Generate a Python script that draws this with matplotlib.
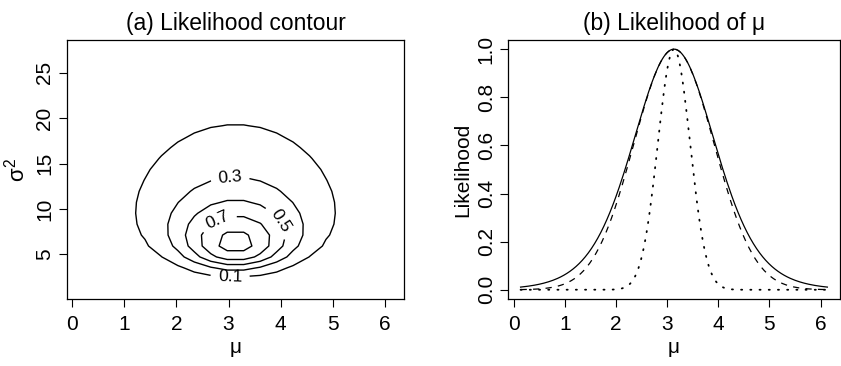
import numpy as np
import matplotlib.pyplot as plt

plt.rcParams['font.family'] = ['Liberation Sans', 'DejaVu Sans']
plt.rcParams['mathtext.fontset'] = 'custom'
plt.rcParams['mathtext.rm'] = 'Liberation Sans'
plt.rcParams['mathtext.it'] = 'Liberation Sans'

# sample (n = 10)
x = np.array([0.88, 1.07, 1.27, 1.54, 1.91, 2.27, 3.84, 4.50, 4.64, 9.41])
levels = [0.1, 0.3, 0.5, 0.7, 0.9]
sigma2_known = 1.0

# where each contour label sits (mu, sigma^2); 0.9 is left unlabelled
label_pos = {0.1: (3.03, 2.9), 0.3: (3.03, 13.2), 0.5: (3.98, 8.6), 0.7: (2.78, 9.0)}

n = len(x)
xbar = x.mean()
s2hat = np.mean((x - xbar) ** 2)


def loglik(mu, s2):
    return -n / 2 * np.log(s2) - (n * s2hat + n * (xbar - mu) ** 2) / (2 * s2)


lmax = loglik(xbar, s2hat)

# coarse grid for the contour
mu_g = np.linspace(xbar - 3, xbar + 3, 20)
s2_g = np.linspace(1.1, 27.6, 23)
M, S = np.meshgrid(mu_g, s2_g)
L = np.exp(loglik(M, S) - lmax)

fig = plt.figure(figsize=(8.41, 3.66), dpi=100)

ax1 = fig.add_axes([0.0793, 0.182, 0.4014, 0.710])
for lev in levels:
    cs = ax1.contour(M, S, L, levels=[lev], colors='black', linewidths=1.0)
    if lev in label_pos:
        ax1.clabel(cs, fontsize=12.5, fmt='%g', inline=True,
                   inline_spacing=9, manual=[label_pos[lev]])
ax1.set_xlim(xbar - 3 - 0.24, xbar + 3 + 0.24)
ax1.set_ylim(1.1 - 0.04 * 26.5, 27.6 + 0.04 * 26.5)
ax1.set_xticks(range(0, 7))
ax1.set_yticks([5, 10, 15, 20, 25])
ax1.set_xlabel('μ', fontsize=15, labelpad=3)
ax1.set_ylabel(r'$\sigma^2$', fontsize=16, labelpad=4)
ax1.set_title('(a) Likelihood contour', fontsize=16.5, pad=7)

# likelihood of mu
mu = np.linspace(xbar - 3, xbar + 3, 200)
prof = (1 + (mu - xbar) ** 2 / s2hat) ** (-n / 2)
est = np.exp(-n * (mu - xbar) ** 2 / (2 * s2hat))
known = np.exp(-n * (mu - xbar) ** 2 / (2 * sigma2_known))

ax2 = fig.add_axes([0.6044, 0.182, 0.3940, 0.710])
ax2.plot(mu, prof, color='black', lw=0.9)
ax2.plot(mu, est, color='black', lw=0.9, dashes=(5, 5))
ax2.plot(mu, known, color='black', lw=1.3, dashes=(0.6, 4.5), dash_capstyle='round')
ax2.set_xlim(xbar - 3 - 0.24, xbar + 3 + 0.24)
ax2.set_ylim(-0.04, 1.04)
ax2.set_xticks(range(0, 7))
ax2.set_yticks([0.0, 0.2, 0.4, 0.6, 0.8, 1.0])
ax2.set_yticklabels(['0.0', '0.2', '0.4', '0.6', '0.8', '1.0'])
ax2.set_xlabel('μ', fontsize=15, labelpad=3)
ax2.set_ylabel('Likelihood', fontsize=15, labelpad=3)
ax2.set_title('(b) Likelihood of μ', fontsize=16.5, pad=7)

for ax in (ax1, ax2):
    ax.tick_params(direction='out', length=6, width=0.8, labelsize=15)
    ax.tick_params(axis='x', pad=5)
    ax.tick_params(axis='y', pad=3)
    for lab in ax.get_yticklabels():
        lab.set_rotation(90)
        lab.set_va('center')
    for sp in ax.spines.values():
        sp.set_linewidth(0.9)

fig.savefig('out.png', dpi=100)
